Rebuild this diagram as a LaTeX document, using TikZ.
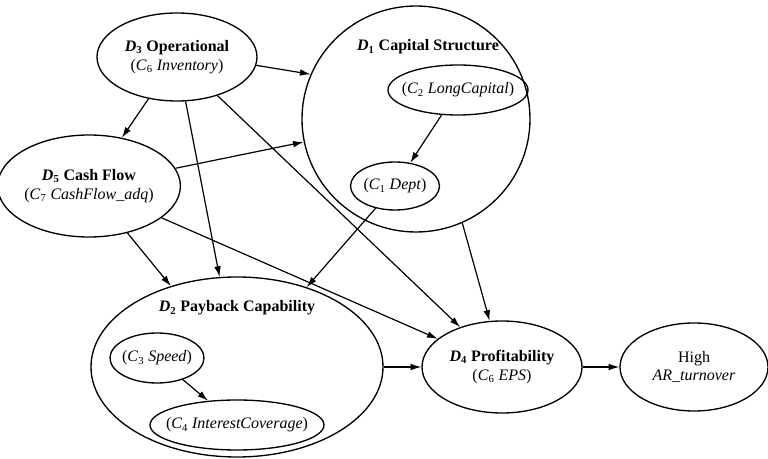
\documentclass[tikz,border=0pt]{standalone}
\usepackage{fontspec}
\setmainfont{Liberation Serif}[ItalicFont={Liberation Serif Italic}, BoldFont={Liberation Serif Bold}, BoldItalicFont={Liberation Serif Bold Italic}]
\usetikzlibrary{positioning, shapes, calc, arrows.meta}
\newcommand{\sym}[2]{\textit{#1}\textsubscript{#2}}

\begin{document}
\begin{tikzpicture}[x=0.75pt, y=-0.75pt, font=\fontsize{12}{14}\selectfont]
  \tikzstyle{ell}=[draw, ellipse, line width=1pt, inner sep=0pt, align=center]
  \tikzstyle{arr}=[-{Latex[length=8pt,width=5pt]}, line width=0.9pt]
  \useasboundingbox (0,0) rectangle (768,459);

  % groups
  \node[ell, minimum width=171pt, minimum height=169.5pt] (d1) at (416,119) {};
  \node[ell, minimum width=219pt, minimum height=135pt] (d2) at (237,367) {};
  \node at (428,47) (d1title) {\textbf{\sym{D}{1} Capital Structure}};
  \node at (237,308) (d2title) {\textbf{\sym{D}{2} Payback Capability}};

  % criteria inside groups
  \node[ell, inner xsep=-9pt, minimum width=105pt, minimum height=37.5pt] (c2) at (458,90) {(\sym{C}{2} \textit{LongCapital})};
  \node[ell, minimum width=66pt, minimum height=36pt] (c1) at (395,186) {(\sym{C}{1} \textit{Dept})};
  \node[ell, inner xsep=-3pt, minimum width=70.5pt, minimum height=37.5pt] (c3) at (157,358) {(\sym{C}{3} \textit{Speed})};
  \node[ell, inner xsep=-12pt, minimum width=130.5pt, minimum height=37.5pt] (c4) at (237,425) {(\sym{C}{4} \textit{InterestCoverage})};

  % other nodes
  \node[ell, minimum width=120pt, minimum height=66pt] (d3) at (177,57) {\textbf{\sym{D}{3} Operational}\\(\sym{C}{6} \textit{Inventory})};
  \node[ell, minimum width=120pt, minimum height=76.5pt] (d5) at (89,186) {\textbf{\sym{D}{5} Cash Flow}\\(\sym{C}{7} \textit{CashFlow\_adq})};
  \node[ell, minimum width=120pt, minimum height=69pt] (d4) at (502,367) {\textbf{\sym{D}{4} Profitability}\\(\sym{C}{6} \textit{EPS})};
  \node[ell, minimum width=111pt, minimum height=66pt] (high) at (694,367) {High\\\textit{AR\_turnover}};

  \draw[arr] (d3.-6) -- (d1.157);
  \draw[arr] (d3) -- (d5);
  \draw[arr] (d3) -- (d2);
  \draw[arr] (d3) -- (d4);
  \draw[arr] (d5) -- (d1);
  \draw[arr] (d5) -- (d2);
  \draw[arr] (d5) -- (d4);
  \draw[arr] (c2) -- (c1);
  \draw[arr] (c1) -- (d2);
  \draw[arr] (d1.-66) -- (d4.105);
  \draw[arr] (c3) -- (c4);
  \draw[arr] (d2) -- (d4);
  \draw[arr] (d4) -- (high);
\end{tikzpicture}
\end{document}
